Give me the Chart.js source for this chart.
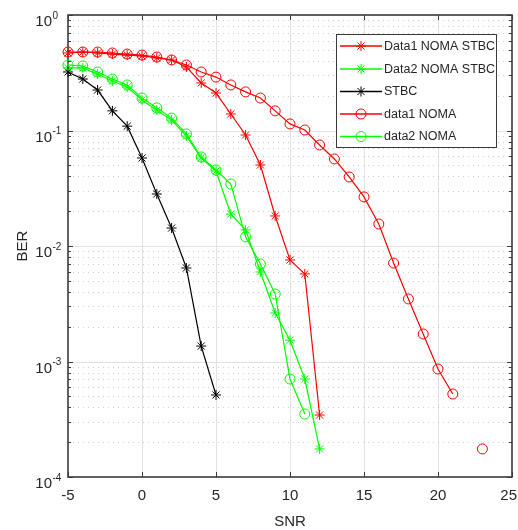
<!DOCTYPE html>
<html>
<head>
<meta charset="utf-8">
<script src="https://cdn.jsdelivr.net/npm/chart.js@4.4.1/dist/chart.umd.min.js"></script>
<style>
  html, body { margin: 0; padding: 0; background: #ffffff; }
  #c { display: block; }
</style>
</head>
<body>
<canvas id="c" width="518" height="530"></canvas>
<script>
// ---- Data ----
const snr = [-5,-4,-3,-2,-1,0,1,2,3,4,5,6,7,8,9,10,11,12,13,14,15,16,17,18,19,20,21,22,23];

const data1NomaStbc = [0.469,0.478,0.469,0.459,0.450,0.442,0.425,0.408,0.355,0.258,0.211,0.139,0.0914,0.0503,0.0182,0.00757,0.00573,0.000344];
const data2NomaStbc = [0.348,0.348,0.308,0.268,0.238,0.184,0.150,0.123,0.0896,0.0578,0.0446,0.0189,0.0138,0.00596,0.00263,0.00153,0.000705,0.000175];
const stbc = [0.321,0.279,0.224,0.148,0.109,0.0578,0.0282,0.0143,0.00645,0.00136,0.000513];
const data1Noma = [0.478,0.478,0.478,0.469,0.459,0.450,0.433,0.408,0.369,0.321,0.290,0.248,0.216,0.191,0.148,0.114,0.101,0.0749,0.0567,0.0396,0.0266,0.0155,0.00712,0.00348,0.00173,0.000861,0.000523,null,0.000175];
const data2Noma = [0.369,0.362,0.321,0.279,0.248,0.191,0.157,0.128,0.0933,0.0590,0.0455,0.0344,0.0120,0.00698,0.00384,0.000705,0.000351];

const seriesNames = ['Data1 NOMA STBC','Data2 NOMA STBC','STBC','data1 NOMA','data2 NOMA'];
const xTicks = [-5,0,5,10,15,20,25];
const yTickExps = [-4,-3,-2,-1,0];
const xTitle = 'SNR';
const yTitle = 'BER';

function pts(vals) { return vals.map((v, i) => ({ x: snr[i], y: v })); }

const RED = '#ff0000', GREEN = '#00ff00', BLACK = '#000000';
function ds(label, vals, color, marker, order) {
  return {
    label: label,
    data: pts(vals),
    borderColor: color,
    backgroundColor: 'rgba(0,0,0,0)',
    borderWidth: 1.2,
    pointStyle: marker,
    pointRadius: 5,
    pointBorderWidth: 1,
    pointBorderColor: color,
    pointBackgroundColor: 'rgba(0,0,0,0)',
    spanGaps: false,
    tension: 0,
    clip: false,
    order: order
  };
}

const datasets = [
  ds(seriesNames[0], data1NomaStbc, RED, 'star', 5),
  ds(seriesNames[1], data2NomaStbc, GREEN, 'star', 4),
  ds(seriesNames[2], stbc, BLACK, 'star', 3),
  ds(seriesNames[3], data1Noma, RED, 'circle', 2),
  ds(seriesNames[4], data2Noma, GREEN, 'circle', 1)
];

const AXC = '#3a3a3a';
const TXC = '#262626';
const FONT = '"Liberation Sans", Arial, Helvetica, sans-serif';

const matlabAxes = {
  id: 'matlabAxes',
  beforeDatasetsDraw(chart) {
    const ctx = chart.ctx, a = chart.chartArea;
    const xs = chart.scales.x, ys = chart.scales.y;
    ctx.save();
    // vertical grid
    ctx.strokeStyle = '#e2e2e2';
    ctx.lineWidth = 1;
    xTicks.forEach(t => {
      const px = Math.round(xs.getPixelForValue(t)) + 0.5;
      if (px <= a.left + 1 || px >= a.right - 1) return;
      ctx.beginPath(); ctx.moveTo(px, a.top); ctx.lineTo(px, a.bottom); ctx.stroke();
    });
    // horizontal grid: major solid, minor dotted
    for (let e = yTickExps[0]; e < yTickExps[yTickExps.length - 1]; e++) {
      for (let m = 1; m <= 9; m++) {
        const v = m * Math.pow(10, e);
        const py = Math.round(ys.getPixelForValue(v)) + 0.5;
        if (py <= a.top + 1 || py >= a.bottom - 1) continue;
        ctx.beginPath();
        if (m === 1) { ctx.setLineDash([]); ctx.strokeStyle = '#e2e2e2'; }
        else { ctx.setLineDash([1, 4]); ctx.strokeStyle = '#cdcdcd'; }
        ctx.moveTo(a.left, py); ctx.lineTo(a.right, py); ctx.stroke();
      }
    }
    ctx.setLineDash([]);
    // box
    ctx.strokeStyle = AXC;
    ctx.lineWidth = 1.6;
    ctx.strokeRect(a.left, a.top, a.right - a.left, a.bottom - a.top);
    // ticks inward
    ctx.lineWidth = 1;
    xTicks.forEach(t => {
      const px = Math.round(xs.getPixelForValue(t)) + 0.5;
      ctx.beginPath();
      ctx.moveTo(px, a.bottom); ctx.lineTo(px, a.bottom - 5);
      ctx.moveTo(px, a.top); ctx.lineTo(px, a.top + 5);
      ctx.stroke();
    });
    for (let e = yTickExps[0]; e <= yTickExps[yTickExps.length - 1]; e++) {
      for (let m = 1; m <= 9; m++) {
        if (e === yTickExps[yTickExps.length - 1] && m > 1) break;
        const v = m * Math.pow(10, e);
        const py = Math.round(ys.getPixelForValue(v)) + 0.5;
        const len = m === 1 ? 5 : 3;
        ctx.beginPath();
        ctx.moveTo(a.left, py); ctx.lineTo(a.left + len, py);
        ctx.moveTo(a.right, py); ctx.lineTo(a.right - len, py);
        ctx.stroke();
      }
    }
    // tick labels
    ctx.fillStyle = TXC;
    ctx.font = '15px ' + FONT;
    ctx.textAlign = 'center';
    ctx.textBaseline = 'middle';
    xTicks.forEach(t => {
      const s = String(t);
      const half = ctx.measureText(s).width / 2;
      let px = xs.getPixelForValue(t);
      px = Math.min(px, chart.width - half - 1);
      ctx.fillText(s, px, a.bottom + 19);
    });
    yTickExps.forEach(e => {
      const py = ys.getPixelForValue(Math.pow(10, e));
      ctx.font = '15px ' + FONT;
      ctx.textAlign = 'right';
      ctx.fillText('10', 52, py + 7);
      ctx.font = '10px ' + FONT;
      ctx.textAlign = 'left';
      ctx.fillText(String(e), 52.5, py + 1);
    });
    // axis titles
    ctx.font = '15px ' + FONT;
    ctx.textAlign = 'center';
    ctx.fillText(xTitle, (a.left + a.right) / 2, 522);
    ctx.save();
    ctx.translate(23, (a.top + a.bottom) / 2);
    ctx.rotate(-Math.PI / 2);
    ctx.fillText(yTitle, 0, 0);
    ctx.restore();
    ctx.restore();
  },
  afterDatasetsDraw(chart) {
    const ctx = chart.ctx;
    const bx = 336.5, by = 34.5, bw = 160, bh = 113;
    ctx.save();
    ctx.fillStyle = '#ffffff';
    ctx.fillRect(bx, by, bw, bh);
    ctx.strokeStyle = AXC;
    ctx.lineWidth = 1;
    ctx.strokeRect(bx, by, bw, bh);
    const rows = [46, 69, 91.5, 114, 136.5];
    chart.data.datasets.forEach((d, i) => {
      const y = rows[i];
      ctx.strokeStyle = d.borderColor;
      ctx.lineWidth = 1.5;
      ctx.beginPath(); ctx.moveTo(340, y); ctx.lineTo(382, y); ctx.stroke();
      ctx.lineWidth = 1;
      ctx.strokeStyle = d.borderColor;
      ctx.fillStyle = 'rgba(0,0,0,0)';
      Chart.helpers.drawPoint(ctx, { pointStyle: d.pointStyle, radius: 5, rotation: 0, borderWidth: 1 }, 361, y);
      ctx.fillStyle = TXC;
      ctx.font = '12.5px ' + FONT;
      ctx.textAlign = 'left';
      ctx.textBaseline = 'middle';
      ctx.fillText(d.label, 384, y + 0.5);
    });
    ctx.restore();
  }
};

const bgPlugin = {
  id: 'bg',
  beforeDraw(chart) {
    const ctx = chart.ctx;
    ctx.save();
    ctx.fillStyle = '#ffffff';
    ctx.fillRect(0, 0, chart.width, chart.height);
    ctx.restore();
  }
};

new Chart(document.getElementById('c'), {
  type: 'line',
  data: { datasets: datasets },
  options: {
    responsive: false,
    animation: false,
    devicePixelRatio: 1,
    layout: { padding: { left: 68, top: 15, right: 6, bottom: 53 } },
    plugins: { legend: { display: false }, tooltip: { enabled: false } },
    scales: {
      x: { type: 'linear', min: -5, max: 25, display: false },
      y: { type: 'logarithmic', min: 1e-4, max: 1, display: false }
    }
  },
  plugins: [bgPlugin, matlabAxes]
});
</script>
</body>
</html>
